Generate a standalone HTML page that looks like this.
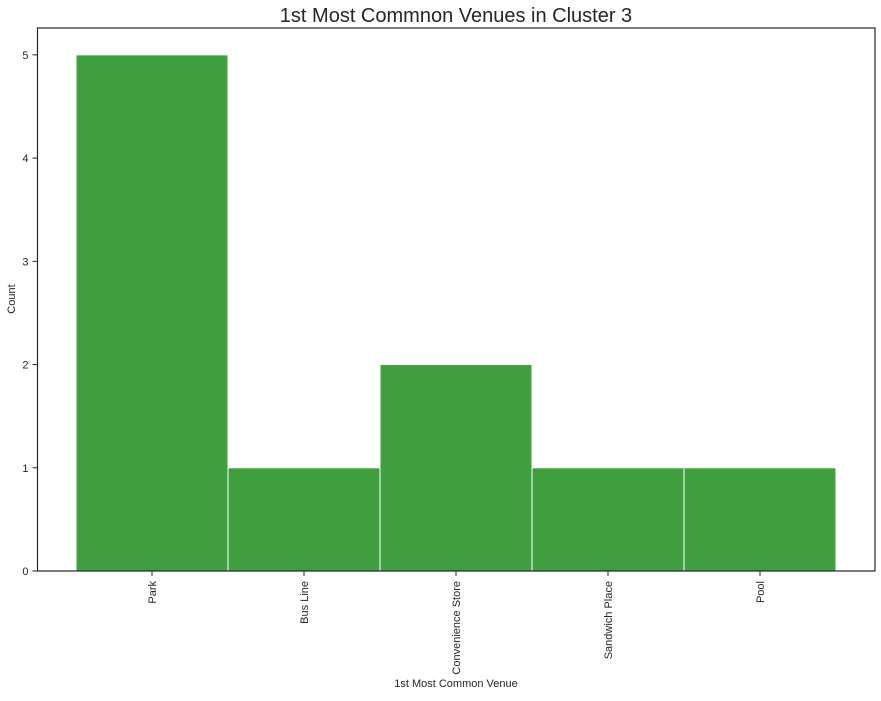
<!DOCTYPE html>
<html><head><meta charset="utf-8"><style>body{margin:0;background:#fff}text{font-family:"Liberation Sans",sans-serif;fill:#262626}</style></head>
<body>
<svg id="c" width="881" height="696" xmlns="http://www.w3.org/2000/svg"></svg>
<script>
const categories=["Park","Bus Line","Convenience Store","Sandwich Place","Pool"];
const counts=[5,1,2,1,1];
const yTicks=[0,1,2,3,4,5];
const L=37.5,R=875,T=28,B=571,ymax=5.26;
const svg=document.getElementById('c');
const ns='http://www.w3.org/2000/svg';
function y(v){return B-(v/ymax)*(B-T);}
const bw=152,x0=76;
function x(i){return x0+i*bw;}
function mk(t,a,p){const e=document.createElementNS(ns,t);for(const k in a)e.setAttribute(k,a[k]);(p||svg).appendChild(e);return e;}
counts.forEach((v,i)=>{const r=mk('rect',{x:x(i),y:y(v),width:bw,height:B-y(v),fill:'#40a040',stroke:'#fff','stroke-width':1});


const cx=x(i)+bw/2;
mk('line',{x1:cx,x2:cx,y1:B,y2:B+5,stroke:'#262626','stroke-width':1});
const t=mk('text',{x:cx,y:B+6,'font-size':11,'text-anchor':'end',transform:`rotate(-90 ${cx+4} ${B+6})`});


t.textContent=categories[i];});
yTicks.forEach(v=>{const yy=y(v);mk('line',{x1:L-5,x2:L,y1:yy,y2:yy,stroke:'#262626'});
const t=mk('text',{x:L-9,y:yy+4,'font-size':11,'text-anchor':'end'});


t.textContent=v;});
const f=mk('rect',{x:L,y:T,width:R-L,height:B-T,fill:'none',stroke:'#262626','stroke-width':1.2});


let t=mk('text',{x:456,y:22,'font-size':20,'text-anchor':'middle'});t.textContent='1st Most Commnon Venues in Cluster 3';


t=mk('text',{x:456,y:687,'font-size':11,'text-anchor':'middle'});t.textContent='1st Most Common Venue';


t=mk('text',{x:15,y:299,'font-size':11,'text-anchor':'middle',transform:'rotate(-90 15 299)'});t.textContent='Count';


</script>
</body></html>
